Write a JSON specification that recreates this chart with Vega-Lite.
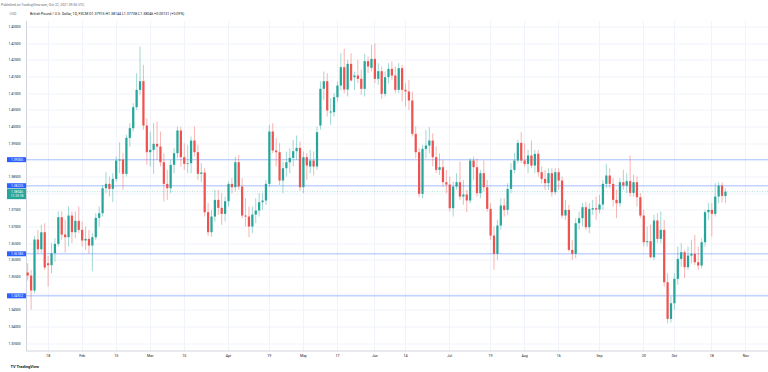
{
  "$schema": "https://vega.github.io/schema/vega-lite/v6.json",
  "background": "white",
  "padding": {"left": 0, "right": 0, "top": 2.5, "bottom": 0},
  "bounds": "flush",
  "config": {
    "font": "Roboto",
    "view": {"stroke": null},
    "concat": {"spacing": 0},
    "axis": {"labelFont": "Roboto", "titleFont": "Roboto"}
  },
  "title": {"text": "Published on TradingView.com, Oct 22, 2021 09:36 UTC", "anchor": "start", "frame": "bounds", "fontSize": 3.4, "fontWeight": "normal", "color": "#6a6d78", "offset": 6, "dx": 1},
  "datasets": {
    "levels": [{"price": 1.39006}, {"price": 1.38225}, {"price": 1.36183}, {"price": 1.34922}],
    "current": [{"price": 1.38046, "countdown": "11:23:18"}],
    "candles": [
      {"date": "2021-01-08", "open": 1.3562, "high": 1.3590, "low": 1.3538, "close": 1.3553},
      {"date": "2021-01-11", "open": 1.3553, "high": 1.3570, "low": 1.3451, "close": 1.3508},
      {"date": "2021-01-12", "open": 1.3508, "high": 1.3672, "low": 1.3500, "close": 1.3661},
      {"date": "2021-01-13", "open": 1.3661, "high": 1.3690, "low": 1.3618, "close": 1.3632},
      {"date": "2021-01-14", "open": 1.3632, "high": 1.3705, "low": 1.3620, "close": 1.3683},
      {"date": "2021-01-15", "open": 1.3683, "high": 1.3710, "low": 1.3570, "close": 1.3577},
      {"date": "2021-01-18", "open": 1.3590, "high": 1.3612, "low": 1.3520, "close": 1.3584},
      {"date": "2021-01-19", "open": 1.3584, "high": 1.3650, "low": 1.3560, "close": 1.3620},
      {"date": "2021-01-20", "open": 1.3620, "high": 1.3665, "low": 1.3595, "close": 1.3648},
      {"date": "2021-01-21", "open": 1.3648, "high": 1.3745, "low": 1.3640, "close": 1.3728},
      {"date": "2021-01-22", "open": 1.3728, "high": 1.3746, "low": 1.3660, "close": 1.3676},
      {"date": "2021-01-25", "open": 1.3676, "high": 1.3720, "low": 1.3622, "close": 1.3668},
      {"date": "2021-01-26", "open": 1.3668, "high": 1.3760, "low": 1.3640, "close": 1.3733},
      {"date": "2021-01-27", "open": 1.3733, "high": 1.3745, "low": 1.3650, "close": 1.3683},
      {"date": "2021-01-28", "open": 1.3683, "high": 1.3745, "low": 1.3665, "close": 1.3717},
      {"date": "2021-01-29", "open": 1.3717, "high": 1.3760, "low": 1.3680, "close": 1.3690},
      {"date": "2021-02-01", "open": 1.3690, "high": 1.3715, "low": 1.3640, "close": 1.3658},
      {"date": "2021-02-02", "open": 1.3658, "high": 1.3700, "low": 1.3630, "close": 1.3663},
      {"date": "2021-02-03", "open": 1.3663, "high": 1.3690, "low": 1.3619, "close": 1.3643},
      {"date": "2021-02-04", "open": 1.3643, "high": 1.3680, "low": 1.3566, "close": 1.3668},
      {"date": "2021-02-05", "open": 1.3668, "high": 1.3740, "low": 1.3660, "close": 1.3726},
      {"date": "2021-02-08", "open": 1.3726, "high": 1.3760, "low": 1.3700, "close": 1.3740},
      {"date": "2021-02-09", "open": 1.3740, "high": 1.3825, "low": 1.3730, "close": 1.3815},
      {"date": "2021-02-10", "open": 1.3815, "high": 1.3863, "low": 1.3800, "close": 1.3828},
      {"date": "2021-02-11", "open": 1.3828, "high": 1.3850, "low": 1.3790, "close": 1.3813},
      {"date": "2021-02-12", "open": 1.3813, "high": 1.3860, "low": 1.3773, "close": 1.3843},
      {"date": "2021-02-15", "open": 1.3843, "high": 1.3910, "low": 1.3835, "close": 1.3898},
      {"date": "2021-02-16", "open": 1.3898, "high": 1.3953, "low": 1.3860, "close": 1.3901},
      {"date": "2021-02-17", "open": 1.3901, "high": 1.3920, "low": 1.3810, "close": 1.3858},
      {"date": "2021-02-18", "open": 1.3858, "high": 1.3975, "low": 1.3850, "close": 1.3966},
      {"date": "2021-02-19", "open": 1.3966, "high": 1.4010, "low": 1.3940, "close": 1.3995},
      {"date": "2021-02-22", "open": 1.3995, "high": 1.4070, "low": 1.3985, "close": 1.4058},
      {"date": "2021-02-23", "open": 1.4058, "high": 1.4160, "low": 1.4050, "close": 1.4110},
      {"date": "2021-02-24", "open": 1.4110, "high": 1.4240, "low": 1.4095, "close": 1.4136},
      {"date": "2021-02-25", "open": 1.4136, "high": 1.4185, "low": 1.3990, "close": 1.4003},
      {"date": "2021-02-26", "open": 1.4003, "high": 1.4025, "low": 1.3885, "close": 1.3923},
      {"date": "2021-03-01", "open": 1.3923, "high": 1.3985, "low": 1.3880, "close": 1.3930},
      {"date": "2021-03-02", "open": 1.3930, "high": 1.4010, "low": 1.3858, "close": 1.3948},
      {"date": "2021-03-03", "open": 1.3948, "high": 1.4015, "low": 1.3900, "close": 1.3940},
      {"date": "2021-03-04", "open": 1.3940, "high": 1.3985, "low": 1.3880, "close": 1.3893},
      {"date": "2021-03-05", "open": 1.3893, "high": 1.3920, "low": 1.3775, "close": 1.3828},
      {"date": "2021-03-08", "open": 1.3828, "high": 1.3870, "low": 1.3780, "close": 1.3815},
      {"date": "2021-03-09", "open": 1.3815, "high": 1.3900, "low": 1.3800, "close": 1.3885},
      {"date": "2021-03-10", "open": 1.3885, "high": 1.3935, "low": 1.3860, "close": 1.3920},
      {"date": "2021-03-11", "open": 1.3920, "high": 1.4000, "low": 1.3905, "close": 1.3988},
      {"date": "2021-03-12", "open": 1.3988, "high": 1.4000, "low": 1.3880, "close": 1.3908},
      {"date": "2021-03-15", "open": 1.3908, "high": 1.3950, "low": 1.3870, "close": 1.3888},
      {"date": "2021-03-16", "open": 1.3888, "high": 1.3945, "low": 1.3860, "close": 1.3890},
      {"date": "2021-03-17", "open": 1.3890, "high": 1.3970, "low": 1.3860, "close": 1.3958},
      {"date": "2021-03-18", "open": 1.3958, "high": 1.4000, "low": 1.3910, "close": 1.3923},
      {"date": "2021-03-19", "open": 1.3923, "high": 1.3945, "low": 1.3840, "close": 1.3858},
      {"date": "2021-03-22", "open": 1.3858, "high": 1.3890, "low": 1.3833, "close": 1.3862},
      {"date": "2021-03-23", "open": 1.3862, "high": 1.3875, "low": 1.3730, "close": 1.3743},
      {"date": "2021-03-24", "open": 1.3743, "high": 1.3770, "low": 1.3672, "close": 1.3683},
      {"date": "2021-03-25", "open": 1.3683, "high": 1.3750, "low": 1.3670, "close": 1.3730},
      {"date": "2021-03-26", "open": 1.3730, "high": 1.3810, "low": 1.3715, "close": 1.3780},
      {"date": "2021-03-29", "open": 1.3780, "high": 1.3810, "low": 1.3735, "close": 1.3756},
      {"date": "2021-03-30", "open": 1.3756, "high": 1.3800, "low": 1.3705, "close": 1.3738},
      {"date": "2021-03-31", "open": 1.3738, "high": 1.3790, "low": 1.3715, "close": 1.3776},
      {"date": "2021-04-01", "open": 1.3776, "high": 1.3835, "low": 1.3760, "close": 1.3828},
      {"date": "2021-04-02", "open": 1.3828, "high": 1.3845, "low": 1.3800, "close": 1.3818},
      {"date": "2021-04-05", "open": 1.3818, "high": 1.3910, "low": 1.3805, "close": 1.3893},
      {"date": "2021-04-06", "open": 1.3893, "high": 1.3915, "low": 1.3810, "close": 1.3820},
      {"date": "2021-04-07", "open": 1.3820, "high": 1.3845, "low": 1.3725, "close": 1.3733},
      {"date": "2021-04-08", "open": 1.3733, "high": 1.3785, "low": 1.3700, "close": 1.3730},
      {"date": "2021-04-09", "open": 1.3730, "high": 1.3760, "low": 1.3668, "close": 1.3700},
      {"date": "2021-04-12", "open": 1.3700, "high": 1.3760, "low": 1.3680, "close": 1.3736},
      {"date": "2021-04-13", "open": 1.3736, "high": 1.3785, "low": 1.3710, "close": 1.3748},
      {"date": "2021-04-14", "open": 1.3748, "high": 1.3800, "low": 1.3730, "close": 1.3773},
      {"date": "2021-04-15", "open": 1.3773, "high": 1.3800, "low": 1.3750, "close": 1.3778},
      {"date": "2021-04-16", "open": 1.3778, "high": 1.3840, "low": 1.3765, "close": 1.3828},
      {"date": "2021-04-19", "open": 1.3828, "high": 1.4005, "low": 1.3820, "close": 1.3985},
      {"date": "2021-04-20", "open": 1.3985, "high": 1.4010, "low": 1.3920, "close": 1.3928},
      {"date": "2021-04-21", "open": 1.3928, "high": 1.3965, "low": 1.3880, "close": 1.3923},
      {"date": "2021-04-22", "open": 1.3923, "high": 1.3950, "low": 1.3825, "close": 1.3838},
      {"date": "2021-04-23", "open": 1.3838, "high": 1.3895, "low": 1.3800, "close": 1.3875},
      {"date": "2021-04-26", "open": 1.3875, "high": 1.3925, "low": 1.3850, "close": 1.3893},
      {"date": "2021-04-27", "open": 1.3893, "high": 1.3935, "low": 1.3860, "close": 1.3906},
      {"date": "2021-04-28", "open": 1.3906, "high": 1.3960, "low": 1.3880, "close": 1.3926},
      {"date": "2021-04-29", "open": 1.3926, "high": 1.3973, "low": 1.3900, "close": 1.3936},
      {"date": "2021-04-30", "open": 1.3936, "high": 1.3955, "low": 1.3808, "close": 1.3818},
      {"date": "2021-05-03", "open": 1.3818, "high": 1.3925, "low": 1.3800, "close": 1.3908},
      {"date": "2021-05-04", "open": 1.3908, "high": 1.3920, "low": 1.3840, "close": 1.3883},
      {"date": "2021-05-05", "open": 1.3880, "high": 1.3930, "low": 1.3860, "close": 1.3898},
      {"date": "2021-05-06", "open": 1.3898, "high": 1.3925, "low": 1.3853, "close": 1.3880},
      {"date": "2021-05-07", "open": 1.3880, "high": 1.4000, "low": 1.3870, "close": 1.3983},
      {"date": "2021-05-10", "open": 1.4003, "high": 1.4135, "low": 1.3990, "close": 1.4113},
      {"date": "2021-05-11", "open": 1.4113, "high": 1.4165, "low": 1.4080, "close": 1.4136},
      {"date": "2021-05-12", "open": 1.4136, "high": 1.4160, "low": 1.4030, "close": 1.4048},
      {"date": "2021-05-13", "open": 1.4042, "high": 1.4085, "low": 1.4005, "close": 1.4045},
      {"date": "2021-05-14", "open": 1.4043, "high": 1.4100, "low": 1.4030, "close": 1.4088},
      {"date": "2021-05-17", "open": 1.4088, "high": 1.4135, "low": 1.4075, "close": 1.4123},
      {"date": "2021-05-18", "open": 1.4123, "high": 1.4220, "low": 1.4110, "close": 1.4178},
      {"date": "2021-05-19", "open": 1.4178, "high": 1.4233, "low": 1.4100, "close": 1.4111},
      {"date": "2021-05-20", "open": 1.4111, "high": 1.4200, "low": 1.4090, "close": 1.4188},
      {"date": "2021-05-21", "open": 1.4188, "high": 1.4220, "low": 1.4135, "close": 1.4138},
      {"date": "2021-05-24", "open": 1.4148, "high": 1.4165, "low": 1.4110, "close": 1.4153},
      {"date": "2021-05-25", "open": 1.4153, "high": 1.4200, "low": 1.4130, "close": 1.4143},
      {"date": "2021-05-26", "open": 1.4143, "high": 1.4170, "low": 1.4095, "close": 1.4113},
      {"date": "2021-05-27", "open": 1.4113, "high": 1.4218, "low": 1.4090, "close": 1.4196},
      {"date": "2021-05-28", "open": 1.4196, "high": 1.4210, "low": 1.4160, "close": 1.4180},
      {"date": "2021-05-31", "open": 1.4176, "high": 1.4245, "low": 1.4165, "close": 1.4203},
      {"date": "2021-06-01", "open": 1.4203, "high": 1.4249, "low": 1.4130, "close": 1.4143},
      {"date": "2021-06-02", "open": 1.4143, "high": 1.4190, "low": 1.4125, "close": 1.4166},
      {"date": "2021-06-03", "open": 1.4166, "high": 1.4180, "low": 1.4083, "close": 1.4098},
      {"date": "2021-06-04", "open": 1.4098, "high": 1.4165, "low": 1.4090, "close": 1.4148},
      {"date": "2021-06-07", "open": 1.4148, "high": 1.4190, "low": 1.4130, "close": 1.4173},
      {"date": "2021-06-08", "open": 1.4173, "high": 1.4195, "low": 1.4140, "close": 1.4153},
      {"date": "2021-06-09", "open": 1.4153, "high": 1.4180, "low": 1.4100, "close": 1.4110},
      {"date": "2021-06-10", "open": 1.4110, "high": 1.4190, "low": 1.4100, "close": 1.4175},
      {"date": "2021-06-11", "open": 1.4175, "high": 1.4185, "low": 1.4075, "close": 1.4110},
      {"date": "2021-06-14", "open": 1.4110, "high": 1.4130, "low": 1.4060, "close": 1.4105},
      {"date": "2021-06-15", "open": 1.4105, "high": 1.4140, "low": 1.4050, "close": 1.4078},
      {"date": "2021-06-16", "open": 1.4078, "high": 1.4105, "low": 1.3970, "close": 1.3978},
      {"date": "2021-06-17", "open": 1.3978, "high": 1.4000, "low": 1.3905, "close": 1.3923},
      {"date": "2021-06-18", "open": 1.3923, "high": 1.3935, "low": 1.3788, "close": 1.3798},
      {"date": "2021-06-21", "open": 1.3798, "high": 1.3945, "low": 1.3785, "close": 1.3933},
      {"date": "2021-06-22", "open": 1.3933, "high": 1.3990, "low": 1.3905, "close": 1.3943},
      {"date": "2021-06-23", "open": 1.3943, "high": 1.3998, "low": 1.3920, "close": 1.3958},
      {"date": "2021-06-24", "open": 1.3958, "high": 1.3980, "low": 1.3880, "close": 1.3908},
      {"date": "2021-06-25", "open": 1.3908, "high": 1.3940, "low": 1.3860, "close": 1.3870},
      {"date": "2021-06-28", "open": 1.3870, "high": 1.3920, "low": 1.3855, "close": 1.3878},
      {"date": "2021-06-29", "open": 1.3878, "high": 1.3900, "low": 1.3820, "close": 1.3833},
      {"date": "2021-06-30", "open": 1.3833, "high": 1.3870, "low": 1.3800, "close": 1.3826},
      {"date": "2021-07-01", "open": 1.3826, "high": 1.3850, "low": 1.3745, "close": 1.3755},
      {"date": "2021-07-02", "open": 1.3755, "high": 1.3835, "low": 1.3730, "close": 1.3820},
      {"date": "2021-07-05", "open": 1.3820, "high": 1.3860, "low": 1.3810, "close": 1.3833},
      {"date": "2021-07-06", "open": 1.3833, "high": 1.3895, "low": 1.3780, "close": 1.3790},
      {"date": "2021-07-07", "open": 1.3790, "high": 1.3840, "low": 1.3765, "close": 1.3796},
      {"date": "2021-07-08", "open": 1.3796, "high": 1.3810, "low": 1.3743, "close": 1.3778},
      {"date": "2021-07-09", "open": 1.3778, "high": 1.3905, "low": 1.3770, "close": 1.3898},
      {"date": "2021-07-12", "open": 1.3898, "high": 1.3910, "low": 1.3840, "close": 1.3878},
      {"date": "2021-07-13", "open": 1.3878, "high": 1.3903, "low": 1.3790, "close": 1.3800},
      {"date": "2021-07-14", "open": 1.3800, "high": 1.3870, "low": 1.3785, "close": 1.3860},
      {"date": "2021-07-15", "open": 1.3860, "high": 1.3898, "low": 1.3805, "close": 1.3818},
      {"date": "2021-07-16", "open": 1.3818, "high": 1.3840, "low": 1.3745, "close": 1.3753},
      {"date": "2021-07-19", "open": 1.3753, "high": 1.3770, "low": 1.3660, "close": 1.3673},
      {"date": "2021-07-20", "open": 1.3673, "high": 1.3700, "low": 1.3570, "close": 1.3618},
      {"date": "2021-07-21", "open": 1.3618, "high": 1.3720, "low": 1.3600, "close": 1.3703},
      {"date": "2021-07-22", "open": 1.3703, "high": 1.3785, "low": 1.3690, "close": 1.3763},
      {"date": "2021-07-23", "open": 1.3763, "high": 1.3785, "low": 1.3730, "close": 1.3750},
      {"date": "2021-07-26", "open": 1.3750, "high": 1.3830, "low": 1.3735, "close": 1.3813},
      {"date": "2021-07-27", "open": 1.3813, "high": 1.3890, "low": 1.3800, "close": 1.3870},
      {"date": "2021-07-28", "open": 1.3870, "high": 1.3920, "low": 1.3860, "close": 1.3898},
      {"date": "2021-07-29", "open": 1.3898, "high": 1.3960, "low": 1.3890, "close": 1.3951},
      {"date": "2021-07-30", "open": 1.3951, "high": 1.3984, "low": 1.3890, "close": 1.3898},
      {"date": "2021-08-02", "open": 1.3898, "high": 1.3950, "low": 1.3880, "close": 1.3888},
      {"date": "2021-08-03", "open": 1.3888, "high": 1.3930, "low": 1.3860, "close": 1.3913},
      {"date": "2021-08-04", "open": 1.3913, "high": 1.3958, "low": 1.3875, "close": 1.3883},
      {"date": "2021-08-05", "open": 1.3883, "high": 1.3930, "low": 1.3860, "close": 1.3918},
      {"date": "2021-08-06", "open": 1.3918, "high": 1.3930, "low": 1.3850, "close": 1.3863},
      {"date": "2021-08-09", "open": 1.3863, "high": 1.3880, "low": 1.3830, "close": 1.3843},
      {"date": "2021-08-10", "open": 1.3843, "high": 1.3870, "low": 1.3810, "close": 1.3830},
      {"date": "2021-08-11", "open": 1.3830, "high": 1.3875, "low": 1.3810, "close": 1.3860},
      {"date": "2021-08-12", "open": 1.3860, "high": 1.3875, "low": 1.3790, "close": 1.3803},
      {"date": "2021-08-13", "open": 1.3803, "high": 1.3875, "low": 1.3795, "close": 1.3863},
      {"date": "2021-08-16", "open": 1.3863, "high": 1.3875, "low": 1.3810, "close": 1.3838},
      {"date": "2021-08-17", "open": 1.3838, "high": 1.3850, "low": 1.3725, "close": 1.3733},
      {"date": "2021-08-18", "open": 1.3733, "high": 1.3780, "low": 1.3720, "close": 1.3750},
      {"date": "2021-08-19", "open": 1.3750, "high": 1.3765, "low": 1.3625, "close": 1.3630},
      {"date": "2021-08-20", "open": 1.3630, "high": 1.3660, "low": 1.3600, "close": 1.3618},
      {"date": "2021-08-23", "open": 1.3618, "high": 1.3725, "low": 1.3605, "close": 1.3710},
      {"date": "2021-08-24", "open": 1.3710, "high": 1.3745, "low": 1.3690, "close": 1.3725},
      {"date": "2021-08-25", "open": 1.3725, "high": 1.3770, "low": 1.3700, "close": 1.3758},
      {"date": "2021-08-26", "open": 1.3758, "high": 1.3775, "low": 1.3690, "close": 1.3698},
      {"date": "2021-08-27", "open": 1.3698, "high": 1.3770, "low": 1.3680, "close": 1.3753},
      {"date": "2021-08-30", "open": 1.3751, "high": 1.3780, "low": 1.3735, "close": 1.3755},
      {"date": "2021-08-31", "open": 1.3755, "high": 1.3790, "low": 1.3720, "close": 1.3751},
      {"date": "2021-09-01", "open": 1.3751, "high": 1.3795, "low": 1.3740, "close": 1.3766},
      {"date": "2021-09-02", "open": 1.3766, "high": 1.3840, "low": 1.3750, "close": 1.3828},
      {"date": "2021-09-03", "open": 1.3828, "high": 1.3888, "low": 1.3815, "close": 1.3853},
      {"date": "2021-09-06", "open": 1.3853, "high": 1.3875, "low": 1.3815, "close": 1.3828},
      {"date": "2021-09-07", "open": 1.3828, "high": 1.3845, "low": 1.3760, "close": 1.3780},
      {"date": "2021-09-08", "open": 1.3780, "high": 1.3810, "low": 1.3725, "close": 1.3770},
      {"date": "2021-09-09", "open": 1.3770, "high": 1.3845, "low": 1.3760, "close": 1.3833},
      {"date": "2021-09-10", "open": 1.3833, "high": 1.3870, "low": 1.3810, "close": 1.3823},
      {"date": "2021-09-13", "open": 1.3823, "high": 1.3860, "low": 1.3800, "close": 1.3836},
      {"date": "2021-09-14", "open": 1.3836, "high": 1.3913, "low": 1.3790, "close": 1.3801},
      {"date": "2021-09-15", "open": 1.3801, "high": 1.3855, "low": 1.3790, "close": 1.3833},
      {"date": "2021-09-16", "open": 1.3833, "high": 1.3850, "low": 1.3760, "close": 1.3788},
      {"date": "2021-09-17", "open": 1.3788, "high": 1.3800, "low": 1.3725, "close": 1.3733},
      {"date": "2021-09-20", "open": 1.3733, "high": 1.3750, "low": 1.3640, "close": 1.3653},
      {"date": "2021-09-21", "open": 1.3653, "high": 1.3700, "low": 1.3640, "close": 1.3656},
      {"date": "2021-09-22", "open": 1.3656, "high": 1.3705, "low": 1.3605, "close": 1.3608},
      {"date": "2021-09-23", "open": 1.3608, "high": 1.3735, "low": 1.3600, "close": 1.3718},
      {"date": "2021-09-24", "open": 1.3718, "high": 1.3740, "low": 1.3650, "close": 1.3663},
      {"date": "2021-09-27", "open": 1.3663, "high": 1.3745, "low": 1.3650, "close": 1.3690},
      {"date": "2021-09-28", "open": 1.3690, "high": 1.3720, "low": 1.3520, "close": 1.3533},
      {"date": "2021-09-29", "open": 1.3533, "high": 1.3560, "low": 1.3410, "close": 1.3423},
      {"date": "2021-09-30", "open": 1.3423, "high": 1.3490, "low": 1.3412, "close": 1.3470},
      {"date": "2021-10-01", "open": 1.3470, "high": 1.3560, "low": 1.3450, "close": 1.3543},
      {"date": "2021-10-04", "open": 1.3543, "high": 1.3640, "low": 1.3525, "close": 1.3603},
      {"date": "2021-10-05", "open": 1.3603, "high": 1.3650, "low": 1.3580, "close": 1.3623},
      {"date": "2021-10-06", "open": 1.3623, "high": 1.3630, "low": 1.3545, "close": 1.3578},
      {"date": "2021-10-07", "open": 1.3578, "high": 1.3640, "low": 1.3570, "close": 1.3613},
      {"date": "2021-10-08", "open": 1.3613, "high": 1.3660, "low": 1.3590, "close": 1.3618},
      {"date": "2021-10-11", "open": 1.3618, "high": 1.3675, "low": 1.3585, "close": 1.3593},
      {"date": "2021-10-12", "open": 1.3593, "high": 1.3640, "low": 1.3570, "close": 1.3583},
      {"date": "2021-10-13", "open": 1.3583, "high": 1.3665, "low": 1.3575, "close": 1.3653},
      {"date": "2021-10-14", "open": 1.3653, "high": 1.3750, "low": 1.3640, "close": 1.3743},
      {"date": "2021-10-15", "open": 1.3743, "high": 1.3770, "low": 1.3720, "close": 1.3750},
      {"date": "2021-10-18", "open": 1.3750, "high": 1.3770, "low": 1.3670, "close": 1.3738},
      {"date": "2021-10-19", "open": 1.3738, "high": 1.3830, "low": 1.3730, "close": 1.3790},
      {"date": "2021-10-20", "open": 1.3790, "high": 1.3833, "low": 1.3770, "close": 1.3823},
      {"date": "2021-10-21", "open": 1.3823, "high": 1.3833, "low": 1.3772, "close": 1.3792},
      {"date": "2021-10-22", "open": 1.37915, "high": 1.38144, "low": 1.37708, "close": 1.38046}
    ]
  },
  "hconcat": [
    {
      "width": 26,
      "height": 330,
      "title": {"text": "USD", "anchor": "middle", "frame": "group", "fontSize": 3.6, "fontWeight": "normal", "color": "#787b86", "offset": 4.5},
      "encoding": {
        "y": {"field": "price", "type": "quantitative",
          "scale": {"domain": [1.33282, 1.4318], "zero": false, "nice": false},
          "axis": {"orient": "left", "values": [1.335, 1.34, 1.345, 1.355, 1.36, 1.365, 1.37, 1.375, 1.385, 1.395, 1.4, 1.405, 1.41, 1.415, 1.42, 1.425, 1.43],
            "format": ".5f", "title": null, "domain": false, "ticks": false, "tickSize": 0, "grid": false,
            "labelAlign": "left", "labelPadding": -8, "labelFontSize": 3.3, "labelColor": "#131722", "labelOverlap": false}}
      },
      "layer": [
        {
          "data": {"name": "levels"},
          "mark": {"type": "point", "filled": true, "opacity": 1, "shape": "M-0.6,-0.25H1.4V0.25H-0.6Z", "size": 400, "color": "#2962ff", "strokeWidth": 0}
        },
        {
          "data": {"name": "levels"},
          "mark": {"type": "text", "fontSize": 3.3, "color": "white", "dx": 4, "baseline": "middle"},
          "encoding": {"text": {"field": "price", "format": ".5f"}}
        },
        {
          "data": {"name": "current"},
          "mark": {"type": "point", "filled": true, "opacity": 1, "shape": "M-0.6,-0.3H1.4V0.75H-0.6Z", "size": 400, "color": "#26a69a", "strokeWidth": 0}
        },
        {
          "data": {"name": "current"},
          "mark": {"type": "text", "fontSize": 3.3, "color": "white", "dx": 4, "baseline": "middle"},
          "encoding": {"text": {"field": "price", "format": ".5f"}}
        },
        {
          "data": {"name": "current"},
          "mark": {"type": "text", "fontSize": 3.3, "color": "white", "dx": 4, "dy": 4.3, "baseline": "middle"},
          "encoding": {"text": {"field": "countdown"}}
        }
      ]
    },
    {
      "width": 742,
      "height": 330,
      "title": {"text": "British Pound / U.S. Dollar, 1D, FXCM  O1.37915  H1.38144  L1.37708  C1.38046  +0.00131 (+0.09%)", "anchor": "start", "frame": "group", "fontSize": 3.6, "fontWeight": "normal", "color": "#131722", "offset": 4.5, "dx": 4},
      "layer": [
        {
          "data": {"name": "levels"},
          "mark": {"type": "rule", "color": "#2962ff", "opacity": 0.28, "strokeWidth": 1.4},
          "encoding": {
            "y": {"field": "price", "type": "quantitative",
              "scale": {"domain": [1.33282, 1.4318], "zero": false, "nice": false},
              "axis": {"orient": "left", "values": [1.335, 1.34, 1.345, 1.35, 1.355, 1.36, 1.365, 1.37, 1.375, 1.38, 1.385, 1.39, 1.395, 1.4, 1.405, 1.41, 1.415, 1.42, 1.425, 1.43],
                "labels": false, "ticks": false, "title": null, "domain": true, "domainColor": "#d1d4dc", "domainWidth": 1, "grid": true, "gridColor": "#f0f3fa", "gridWidth": 1}}
          }
        },
        {
          "data": {"name": "current"},
          "mark": {"type": "rule", "color": "#26a69a", "opacity": 0.45, "strokeWidth": 0.8, "strokeDash": [1, 1.5]},
          "encoding": {
            "y": {"field": "price", "type": "quantitative",
              "scale": {"domain": [1.33282, 1.4318], "zero": false, "nice": false},
              "axis": {"orient": "left", "values": [1.335, 1.34, 1.345, 1.35, 1.355, 1.36, 1.365, 1.37, 1.375, 1.38, 1.385, 1.39, 1.395, 1.4, 1.405, 1.41, 1.415, 1.42, 1.425, 1.43],
                "labels": false, "ticks": false, "title": null, "domain": true, "domainColor": "#d1d4dc", "domainWidth": 1, "grid": true, "gridColor": "#f0f3fa", "gridWidth": 1}}
          }
        },
        {
          "data": {"name": "candles"},
          "layer": [
            {
              "mark": {"type": "rule", "strokeWidth": 0.8, "opacity": 0.55},
              "encoding": {
                "y": {"field": "low", "type": "quantitative",
                  "scale": {"domain": [1.33282, 1.4318], "zero": false, "nice": false},
                  "axis": {"orient": "left", "values": [1.335, 1.34, 1.345, 1.35, 1.355, 1.36, 1.365, 1.37, 1.375, 1.38, 1.385, 1.39, 1.395, 1.4, 1.405, 1.41, 1.415, 1.42, 1.425, 1.43],
                    "labels": false, "ticks": false, "title": null, "domain": true, "domainColor": "#d1d4dc", "domainWidth": 1, "grid": true, "gridColor": "#f0f3fa", "gridWidth": 1}},
                "y2": {"field": "high"}
              }
            },
            {
              "mark": {"type": "bar", "width": {"band": 0.66}},
              "encoding": {
                "y": {"field": "open", "type": "quantitative",
                  "scale": {"domain": [1.33282, 1.4318], "zero": false, "nice": false},
                  "axis": {"orient": "left", "values": [1.335, 1.34, 1.345, 1.35, 1.355, 1.36, 1.365, 1.37, 1.375, 1.38, 1.385, 1.39, 1.395, 1.4, 1.405, 1.41, 1.415, 1.42, 1.425, 1.43],
                    "labels": false, "ticks": false, "title": null, "domain": true, "domainColor": "#d1d4dc", "domainWidth": 1, "grid": true, "gridColor": "#f0f3fa", "gridWidth": 1}},
                "y2": {"field": "close"}
              }
            }
          ],
          "encoding": {
            "x": {"field": "date", "type": "ordinal",
              "scale": {"type": "band", "paddingInner": 0, "paddingOuter": 0,
                "domain": {"unionWith": ["2021-10-25", "2021-10-26", "2021-10-27", "2021-10-28", "2021-10-29", "2021-11-01", "2021-11-02", "2021-11-03", "2021-11-04", "2021-11-05", "2021-11-08", "2021-11-09"]}},
              "axis": {"values": ["2021-01-18", "2021-02-01", "2021-02-15", "2021-03-01", "2021-03-15", "2021-04-01", "2021-04-19", "2021-05-03", "2021-05-17", "2021-06-01", "2021-06-14", "2021-07-01", "2021-07-19", "2021-08-02", "2021-08-16", "2021-09-01", "2021-09-20", "2021-10-01", "2021-10-18", "2021-11-01"],
                "labelExpr": "utcdate(toDate(datum.value)) <= 3 ? utcFormat(toDate(datum.value), '%b') : utcFormat(toDate(datum.value), '%-d')",
                "labelAngle": 0, "labelFontSize": 3.6, "labelColor": "#131722", "labelPadding": 3, "ticks": false, "bandPosition": 0.5,
                "grid": true, "gridColor": "#f0f3fa", "gridWidth": 1, "domain": true, "domainColor": "#d1d4dc",
                "title": "TV TradingView", "titleX": -16, "titleY": 16, "titleAlign": "left", "titleBaseline": "middle", "titleFontSize": 4, "titleFontWeight": "bold", "titleColor": "#131722"}},
            "color": {"condition": {"test": "datum.close >= datum.open", "value": "#26a69a"}, "value": "#ef5350"}
          }
        }
      ]
    }
  ]
}
